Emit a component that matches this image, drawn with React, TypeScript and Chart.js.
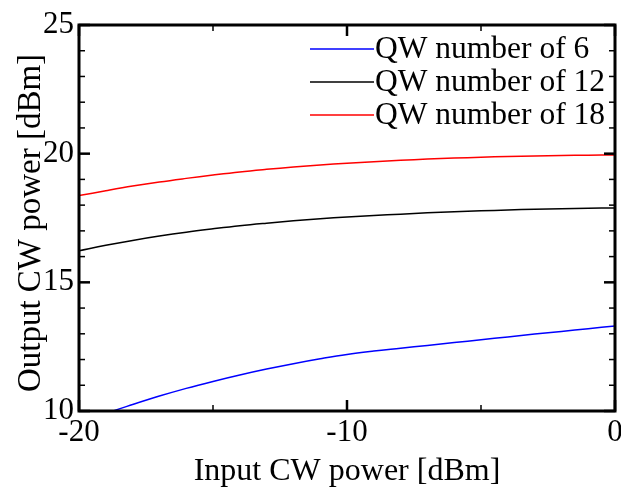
import React, { useEffect, useRef } from "react";
import { Chart, registerables } from "chart.js";

Chart.register(...registerables);

const xValues = [-20, -19, -18, -17, -16, -15, -14, -13, -12, -11, -10, -9, -8, -7, -6, -5, -4, -3, -2, -1, 0];
const qw6 = [9.5, 9.9, 10.25, 10.58, 10.88, 11.15, 11.4, 11.63, 11.84, 12.03, 12.2, 12.33, 12.44, 12.55, 12.66, 12.77, 12.88, 12.99, 13.09, 13.2, 13.3];
const qw12 = [16.23, 16.44, 16.63, 16.8, 16.95, 17.08, 17.2, 17.3, 17.39, 17.47, 17.54, 17.6, 17.65, 17.7, 17.74, 17.78, 17.81, 17.84, 17.86, 17.88, 17.89];
const qw18 = [18.37, 18.56, 18.74, 18.9, 19.04, 19.17, 19.29, 19.39, 19.48, 19.56, 19.63, 19.69, 19.74, 19.79, 19.83, 19.86, 19.89, 19.91, 19.93, 19.94, 19.95];
const seriesLabels = ["QW number of 6", "QW number of 12", "QW number of 18"];
const seriesColors = ["#0000ff", "#000000", "#ff0000"];
const xMajorTicks = [-20, -10, 0];
const xMinorTicks = [-15, -5];
const yMajorTicks = [10, 15, 20, 25];
const yMinorTicks = [11, 12, 13, 14, 16, 17, 18, 19, 21, 22, 23, 24];
const xTitle = "Input CW power [dBm]";
const yTitle = "Output CW power [dBm]";

const FONT = "'Liberation Serif', 'Times New Roman', serif";

const framePlugin = {
  id: "frameTicks",
  afterDatasetsDraw(chart: any) {
    const { ctx, chartArea: a, scales } = chart;
    const xs = scales.x, ys = scales.y;
    ctx.save();
    ctx.strokeStyle = "#000";
    ctx.lineCap = "butt";
    const tick = (x1: number, y1: number, x2: number, y2: number, w: number) => {
      ctx.lineWidth = w;
      ctx.beginPath();
      ctx.moveTo(x1, y1);
      ctx.lineTo(x2, y2);
      ctx.stroke();
    };
    xMajorTicks.forEach((v) => {
      const p = xs.getPixelForValue(v);
      tick(p, a.bottom, p, a.bottom - 11, 2.5);
      tick(p, a.top, p, a.top + 11, 2.5);
    });
    xMinorTicks.forEach((v) => {
      const p = xs.getPixelForValue(v);
      tick(p, a.bottom, p, a.bottom - 6, 1.5);
      tick(p, a.top, p, a.top + 6, 1.5);
    });
    yMajorTicks.forEach((v) => {
      const p = ys.getPixelForValue(v);
      tick(a.left, p, a.left + 11, p, 2.5);
      tick(a.right, p, a.right - 11, p, 2.5);
    });
    yMinorTicks.forEach((v) => {
      const p = ys.getPixelForValue(v);
      tick(a.left, p, a.left + 6, p, 1.5);
      tick(a.right, p, a.right - 6, p, 1.5);
    });
    ctx.lineWidth = 3;
    ctx.strokeRect(a.left, a.top, a.right - a.left, a.bottom - a.top);

    // legend
    ctx.font = `31.5px ${FONT}`;
    ctx.textBaseline = "middle";
    ctx.textAlign = "left";
    chart.data.datasets.forEach((ds: any, i: number) => {
      const y = 49 + 33 * i;
      ctx.strokeStyle = ds.borderColor;
      ctx.lineWidth = 1.5;
      ctx.beginPath();
      ctx.moveTo(310, y);
      ctx.lineTo(374, y);
      ctx.stroke();
      ctx.fillStyle = "#000";
      ctx.fillText(ds.label, 375, y + 1);
    });

    // axis titles
    ctx.fillStyle = "#000";
    ctx.textAlign = "center";
    ctx.textBaseline = "alphabetic";
    ctx.font = `32px ${FONT}`;
    ctx.fillText(xTitle, (a.left + a.right) / 2, 480);
    ctx.save();
    ctx.translate(40, 223);
    ctx.rotate(-Math.PI / 2);
    ctx.font = `33px ${FONT}`;
    ctx.fillText(yTitle, 0, 0);
    ctx.restore();
    ctx.restore();
  },
};

export default function App() {
  const ref = useRef<HTMLCanvasElement>(null);
  useEffect(() => {
    const series = [qw6, qw12, qw18];
    const chart = new Chart(ref.current!, {
      type: "line",
      data: {
        datasets: series.map((s, i) => ({
          label: seriesLabels[i],
          data: xValues.map((x, j) => ({ x, y: s[j] })),
          borderColor: seriesColors[i],
          borderWidth: 1.5,
          pointRadius: 0,
          tension: 0.4,
          fill: false,
        })),
      },
      options: {
        animation: false,
        responsive: false,
        maintainAspectRatio: false,
        layout: { padding: { top: 25, right: 6, left: 0, bottom: 0 } },
        plugins: { legend: { display: false }, tooltip: { enabled: false } },
        scales: {
          x: {
            type: "linear",
            min: -20,
            max: 0,
            grid: { display: false, drawTicks: false },
            border: { display: false },
            ticks: {
              stepSize: 10,
              color: "#000",
              font: { family: FONT, size: 31 },
              padding: 3,
              maxRotation: 0,
              autoSkip: false,
            },
            afterFit(scale: any) {
              scale.height = 77;
              scale.paddingLeft = 0;
              scale.paddingRight = 0;
            },
          },
          y: {
            type: "linear",
            min: 10,
            max: 25,
            grid: { display: false, drawTicks: false },
            border: { display: false },
            ticks: {
              stepSize: 5,
              color: "#000",
              font: { family: FONT, size: 31 },
              padding: 5,
            },
            afterFit(scale: any) {
              scale.width = 79;
              scale.paddingTop = 0;
              scale.paddingBottom = 0;
            },
          },
        },
      },
      plugins: [framePlugin],
    });
    return () => chart.destroy();
  }, []);
  return (
    <div style={{ position: "absolute", left: 0, top: 0, width: 621, height: 488, background: "#fff" }}>
      <canvas ref={ref} width={621} height={488} style={{ width: 621, height: 488 }} />
    </div>
  );
}
